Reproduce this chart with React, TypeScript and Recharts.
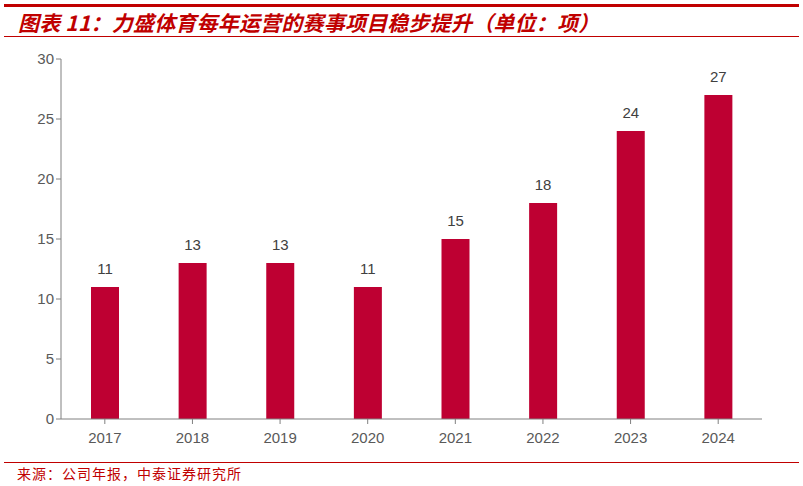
import { BarChart, Bar, XAxis, YAxis, LabelList } from 'recharts';

const years = ['2017', '2018', '2019', '2020', '2021', '2022', '2023', '2024'];
const events = [11, 13, 13, 11, 15, 18, 24, 27];
const yTicks = [0, 5, 10, 15, 20, 25, 30];

const chartData = years.map((year, i) => ({ year, value: events[i] }));

const RED = '#C00000';

export default function App() {
    return (
        <div style={{ position: 'relative', width: 803, height: 486, background: '#fff', fontFamily: 'Arial, "Liberation Sans", sans-serif' }}>
            <style>{`body{margin:0}`}</style>
            <div style={{ position: 'absolute', left: 4, right: 4, top: 4, height: 3, background: RED }} />
            <div
                style={{
                    position: 'absolute',
                    left: 18,
                    top: 9,
                    color: RED,
                    fontSize: 21,
                    letterSpacing: 0.2,
                    fontWeight: 'bold',
                    fontStyle: 'italic',
                    fontFamily: '"Noto Sans CJK SC", sans-serif',
                    lineHeight: '26px',
                    whiteSpace: 'nowrap',
                }}
            >
                图表 11：力盛体育每年运营的赛事项目稳步提升（单位：项）
            </div>
            <div style={{ position: 'absolute', left: 4, right: 4, top: 36, height: 1, background: RED }} />
            <div style={{ position: 'absolute', top: 0, left: 0 }}>
                <BarChart width={803} height={486} data={chartData} margin={{ top: 59, right: 41, bottom: 37, left: 21 }}>
                    <XAxis
                        dataKey="year"
                        height={30}
                        stroke="#808080"
                        tick={{ fill: '#595959', fontSize: 15 }}
                        tickLine={{ stroke: '#808080' }}
                        tickSize={5}
                        tickMargin={8}
                        interval={0}
                    />
                    <YAxis
                        width={40}
                        domain={[0, 30]}
                        ticks={yTicks}
                        stroke="#808080"
                        tick={{ fill: '#595959', fontSize: 15 }}
                        tickSize={5}
                        interval={0}
                    />
                    <Bar dataKey="value" fill="#BE0032" barSize={28} isAnimationActive={false}>
                        <LabelList dataKey="value" position="top" offset={13} fill="#404040" fontSize={15} />
                    </Bar>
                </BarChart>
            </div>
            <div style={{ position: 'absolute', left: 4, right: 4, top: 462, height: 1, background: RED }} />
            <div
                style={{
                    position: 'absolute',
                    left: 17,
                    top: 463,
                    color: RED,
                    fontSize: 14,
                    letterSpacing: 1,
                    fontFamily: '"Noto Sans CJK SC", sans-serif',
                    lineHeight: '20px',
                    whiteSpace: 'nowrap',
                }}
            >
                来源：公司年报，中泰证券研究所
            </div>
        </div>
    );
}
